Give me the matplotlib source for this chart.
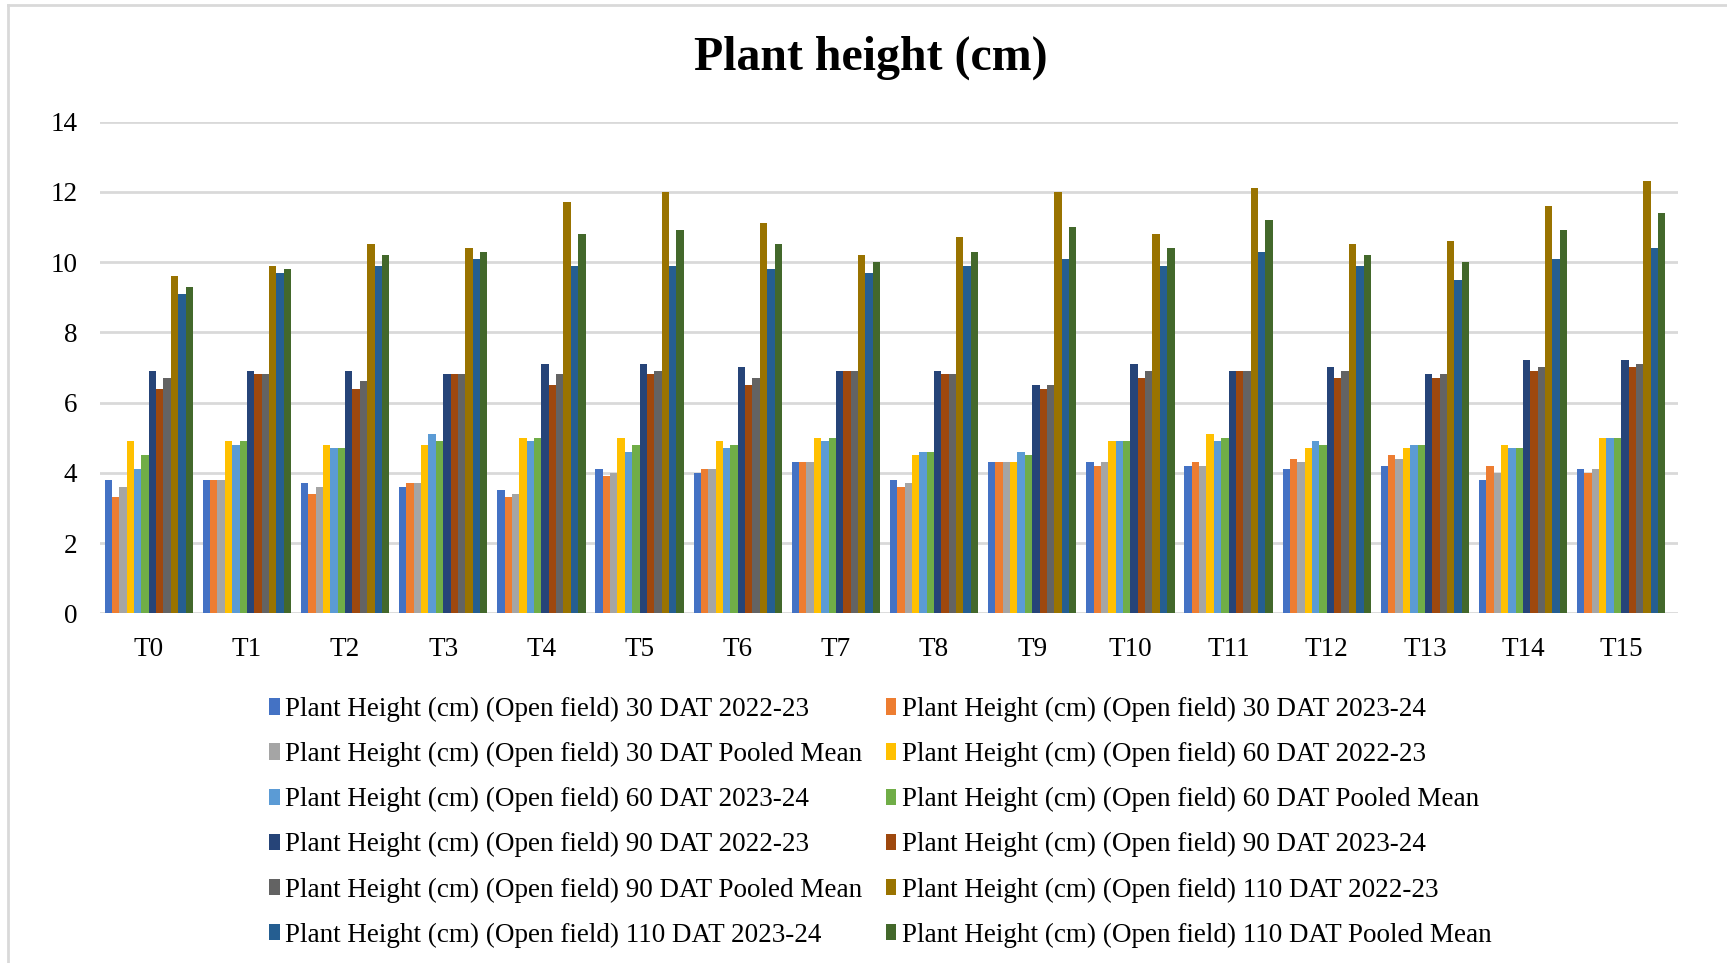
import numpy as np
import matplotlib
matplotlib.use("Agg")
import matplotlib.pyplot as plt
from matplotlib.lines import Line2D

plt.rcParams['font.family'] = ['Liberation Serif', 'DejaVu Serif']

treatments = ["T%d" % i for i in range(16)]

series_names = [
    "Plant Height (cm) (Open field) 30 DAT 2022-23",
    "Plant Height (cm) (Open field) 30 DAT 2023-24",
    "Plant Height (cm) (Open field) 30 DAT Pooled Mean",
    "Plant Height (cm) (Open field) 60 DAT 2022-23",
    "Plant Height (cm) (Open field) 60 DAT 2023-24",
    "Plant Height (cm) (Open field) 60 DAT Pooled Mean",
    "Plant Height (cm) (Open field) 90 DAT 2022-23",
    "Plant Height (cm) (Open field) 90 DAT 2023-24",
    "Plant Height (cm) (Open field) 90 DAT Pooled Mean",
    "Plant Height (cm) (Open field) 110 DAT 2022-23",
    "Plant Height (cm) (Open field) 110 DAT 2023-24",
    "Plant Height (cm) (Open field) 110 DAT Pooled Mean",
]

# 30 DAT
dat30_y1 = [3.8, 3.8, 3.7, 3.6, 3.5, 4.1, 4.0, 4.3, 3.8, 4.3, 4.3, 4.2, 4.1, 4.2, 3.8, 4.1]
dat30_y2 = [3.3, 3.8, 3.4, 3.7, 3.3, 3.9, 4.1, 4.3, 3.6, 4.3, 4.2, 4.3, 4.4, 4.5, 4.2, 4.0]
dat30_pm = [3.6, 3.8, 3.6, 3.7, 3.4, 4.0, 4.1, 4.3, 3.7, 4.3, 4.3, 4.2, 4.3, 4.4, 4.0, 4.1]
# 60 DAT
dat60_y1 = [4.9, 4.9, 4.8, 4.8, 5.0, 5.0, 4.9, 5.0, 4.5, 4.3, 4.9, 5.1, 4.7, 4.7, 4.8, 5.0]
dat60_y2 = [4.1, 4.8, 4.7, 5.1, 4.9, 4.6, 4.7, 4.9, 4.6, 4.6, 4.9, 4.9, 4.9, 4.8, 4.7, 5.0]
dat60_pm = [4.5, 4.9, 4.7, 4.9, 5.0, 4.8, 4.8, 5.0, 4.6, 4.5, 4.9, 5.0, 4.8, 4.8, 4.7, 5.0]
# 90 DAT
dat90_y1 = [6.9, 6.9, 6.9, 6.8, 7.1, 7.1, 7.0, 6.9, 6.9, 6.5, 7.1, 6.9, 7.0, 6.8, 7.2, 7.2]
dat90_y2 = [6.4, 6.8, 6.4, 6.8, 6.5, 6.8, 6.5, 6.9, 6.8, 6.4, 6.7, 6.9, 6.7, 6.7, 6.9, 7.0]
dat90_pm = [6.7, 6.8, 6.6, 6.8, 6.8, 6.9, 6.7, 6.9, 6.8, 6.5, 6.9, 6.9, 6.9, 6.8, 7.0, 7.1]
# 110 DAT
dat110_y1 = [9.6, 9.9, 10.5, 10.4, 11.7, 12.0, 11.1, 10.2, 10.7, 12.0, 10.8, 12.1, 10.5, 10.6, 11.6, 12.3]
dat110_y2 = [9.1, 9.7, 9.9, 10.1, 9.9, 9.9, 9.8, 9.7, 9.9, 10.1, 9.9, 10.3, 9.9, 9.5, 10.1, 10.4]
dat110_pm = [9.3, 9.8, 10.2, 10.3, 10.8, 10.9, 10.5, 10.0, 10.3, 11.0, 10.4, 11.2, 10.2, 10.0, 10.9, 11.4]

all_series = [dat30_y1, dat30_y2, dat30_pm, dat60_y1, dat60_y2, dat60_pm,
              dat90_y1, dat90_y2, dat90_pm, dat110_y1, dat110_y2, dat110_pm]

colors = ["#4472C4", "#ED7D31", "#A5A5A5", "#FFC000", "#5B9BD5", "#70AD47",
          "#264478", "#9E480E", "#636363", "#997300", "#255E91", "#43682B"]

fig = plt.figure(figsize=(17.27, 9.63), dpi=100)
ax = fig.add_axes([0.0577, 0.3631, 0.9140, 0.5107])

x = np.arange(len(treatments))
n = len(all_series)
width = 0.075
handles = []
for i, (vals, col) in enumerate(zip(all_series, colors)):
    offs = (i - (n - 1) / 2) * width
    b = ax.bar(x + offs, vals, width, color=col, edgecolor="none",
               zorder=3, label=series_names[i])
    handles.append(b)

ax.set_xlim(-0.5, 15.58)
ax.set_ylim(0, 14)
ax.set_yticks(np.arange(0, 15, 2))
ax.set_xticks(x)
ax.set_xticklabels(treatments)
ax.tick_params(axis="both", length=0, labelsize=19.5, colors="black")
ax.tick_params(axis="x", pad=17)
ax.tick_params(axis="y", pad=16)
ax.grid(axis="y", color="#D9D9D9", linewidth=2, zorder=0)
for s in ax.spines.values():
    s.set_visible(False)

fig.text(0.5045, 0.9395, "Plant height (cm)", fontsize=34.5, fontweight="bold",
         ha="center", va="center")

# legend entries run across rows, so feed them column by column
order = list(range(0, n, 2)) + list(range(1, n, 2))
fig.legend([handles[i] for i in order], [series_names[i] for i in order],
           ncol=2, loc="upper left", bbox_to_anchor=(0.148, 0.2905),
           frameon=False, fontsize=19.5, handlelength=0.4, handleheight=0.55,
           handletextpad=0.2, columnspacing=0.85, labelspacing=0.74,
           borderpad=0)

# light frame lines along the top and left edges
fig.add_artist(Line2D([0.0045, 1.0], [0.9945, 0.9945], transform=fig.transFigure,
                      color="#D9D9D9", linewidth=2))
fig.add_artist(Line2D([0.0045, 0.0045], [0.0, 0.9945], transform=fig.transFigure,
                      color="#D9D9D9", linewidth=2))

fig.savefig("out.png", dpi=100)
